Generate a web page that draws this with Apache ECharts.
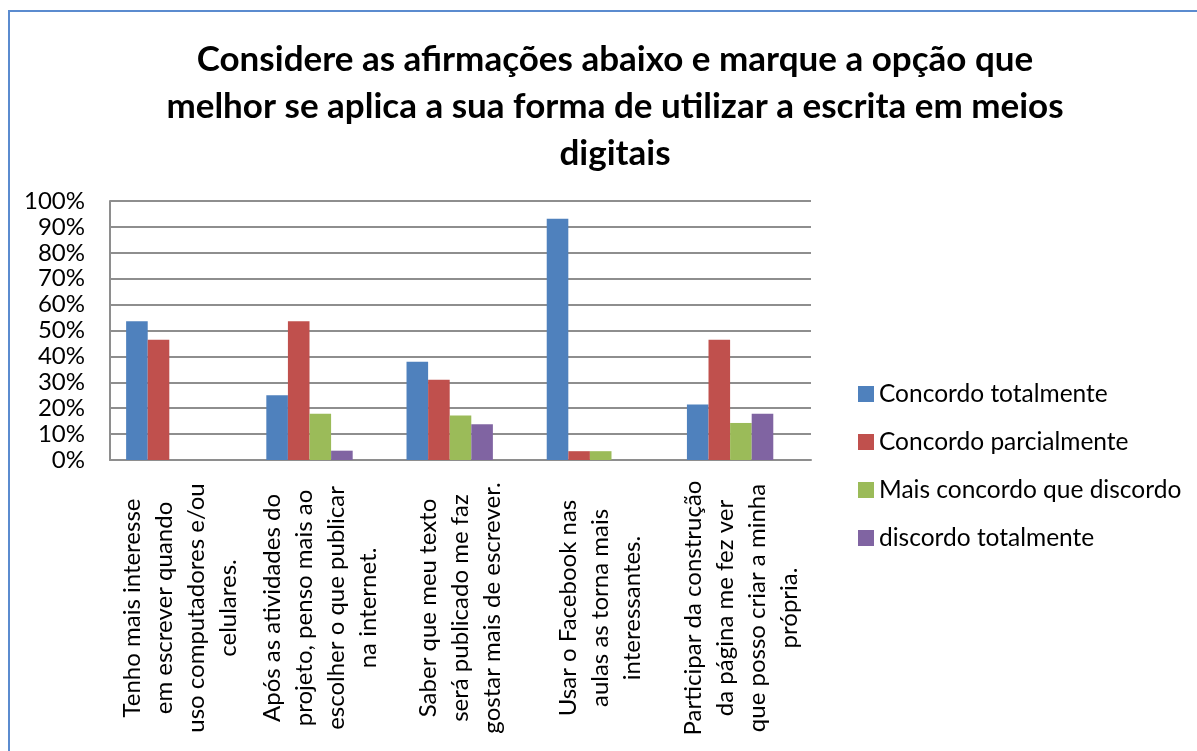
<!DOCTYPE html>
<html>
<head>
<meta charset="utf-8">
<script src="https://cdn.jsdelivr.net/npm/echarts@6/dist/echarts.min.js"></script>
<style>
  html, body { margin: 0; padding: 0; background: #fff; }
  #chart { width: 1197px; height: 751px; }
</style>
</head>
<body>
<div id="chart"></div>
<script>
const titleText = 'Considere as afirmações abaixo e marque a opção que\nmelhor se aplica a sua forma de utilizar a escrita em meios\ndigitais';

const categories = [
  'Tenho mais interesse\nem escrever quando\nuso computadores e/ou\ncelulares.',
  'Após as atividades do\nprojeto, penso mais ao\nescolher o que publicar\nna internet.',
  'Saber que meu texto\nserá publicado me faz\ngostar mais de escrever.',
  'Usar o Facebook nas\naulas as torna mais\ninteressantes.',
  'Participar da construção\nda página me fez ver\nque posso criar a minha\nprópria.'
];

const seriesNames = ['Concordo totalmente', 'Concordo parcialmente', 'Mais concordo que discordo', 'discordo totalmente'];
const seriesColors = ['#4F81BD', '#C0504D', '#9BBB59', '#8064A2'];

// percent values
const concordoTotalmente = [53.6, 25.0, 37.9, 93.1, 21.4];
const concordoParcialmente = [46.4, 53.6, 31.0, 3.4, 46.4];
const maisConcordo = [null, 17.9, 17.2, 3.4, 14.3];
const discordoTotalmente = [null, 3.6, 13.8, null, 17.9];

const yTicks = ['0%', '10%', '20%', '30%', '40%', '50%', '60%', '70%', '80%', '90%', '100%'];

const font = 'Lato';
const chart = echarts.init(document.getElementById('chart'), null, { renderer: 'canvas' });

const values = [concordoTotalmente, concordoParcialmente, maisConcordo, discordoTotalmente];
const series = values.map((d, i) => ({
  name: seriesNames[i],
  type: 'bar',
  data: d,
  barGap: '0%',
  barCategoryGap: '23%',
  itemStyle: { color: seriesColors[i] }
}));
// empty fifth slot, the original chart leaves room for it
series.push({ name: 'vazio', type: 'bar', data: [], barGap: '0%', barCategoryGap: '23%' });

chart.setOption({
  backgroundColor: '#fff',
  animation: false,
  textStyle: { fontFamily: font },
  graphic: [{
    type: 'rect',
    shape: { x: 9, y: 11, width: 1300, height: 900 },
    style: { fill: 'none', stroke: '#5B8BCF', lineWidth: 2 },
    silent: true
  }],
  title: {
    text: titleText,
    left: 615,
    top: 36,
    padding: 0,
    textAlign: 'center',
    textStyle: { fontFamily: font, fontWeight: 'bold', fontSize: 35, lineHeight: 47, color: '#000' }
  },
  legend: {
    orient: 'vertical',
    left: 853,
    top: 374,
    data: seriesNames,
    icon: 'rect',
    itemWidth: 16,
    itemHeight: 16,
    itemGap: 18,
    textStyle: { fontFamily: font, fontSize: 24.5, lineHeight: 30, color: '#000' }
  },
  grid: { left: 110, right: 386, top: 201, bottom: 291, containLabel: false },
  xAxis: {
    type: 'category',
    data: categories,
    axisLine: { show: true, lineStyle: { color: '#8E8E8E', width: 2 } },
    axisTick: { show: false },
    axisLabel: {
      interval: 0,
      rotate: 90,
      align: 'center',
      margin: 148,
      fontFamily: font,
      fontSize: 24,
      lineHeight: 32,
      color: '#000'
    }
  },
  yAxis: {
    type: 'value',
    min: 0,
    max: 100,
    interval: 10,
    axisLine: { show: true, lineStyle: { color: '#8E8E8E', width: 2 } },
    axisTick: { show: false },
    splitLine: { lineStyle: { color: '#8E8E8E', width: 2 } },
    axisLabel: {
      margin: 25,
      fontFamily: font,
      fontSize: 24,
      color: '#000',
      formatter: (v) => yTicks[Math.round(v / 10)]
    }
  },
  series: series
});
</script>
</body>
</html>
